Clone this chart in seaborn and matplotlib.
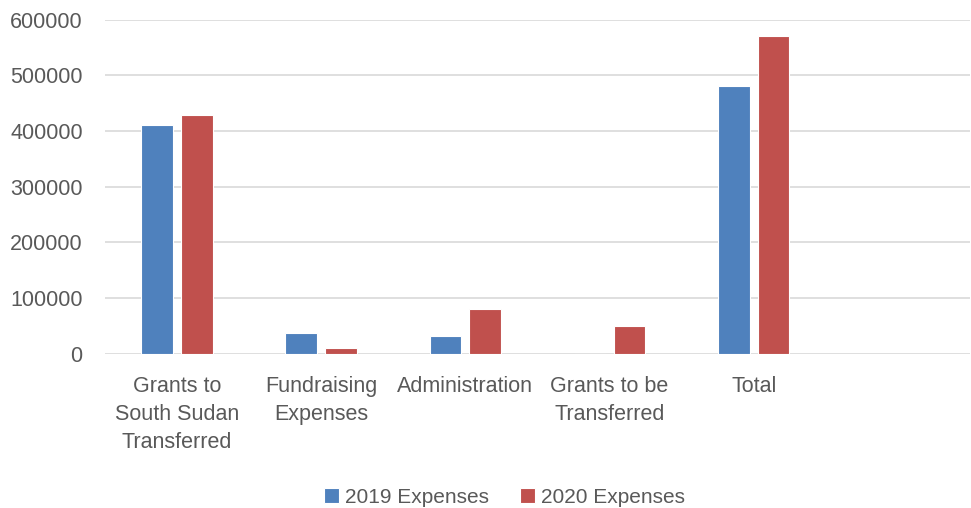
import pandas as pd
import numpy as np
import matplotlib.pyplot as plt
import seaborn as sns

# --- data ---
categories = ['Grants to\nSouth Sudan\nTransferred', 'Fundraising\nExpenses',
              'Administration', 'Grants to be\nTransferred', 'Total']
expenses_2019 = [411000, 36700, 32400, 0, 481500]
expenses_2020 = [428000, 9500, 80400, 49800, 571000]
series_names = ['2019 Expenses', '2020 Expenses']
y_ticks = [0, 100000, 200000, 300000, 400000, 500000, 600000]

df = pd.DataFrame({
    'Category': categories * 2,
    'Value': expenses_2019 + expenses_2020,
    'Series': [series_names[0]] * len(categories) + [series_names[1]] * len(categories),
})
# Excel left an empty sixth slot on the category axis
order = categories + [' ']

sns.set_style('white')
plt.rcParams['font.family'] = ['Liberation Sans', 'DejaVu Sans']

fig = plt.figure(figsize=(9.71, 5.08), dpi=100)
ax = fig.add_axes([0.108, 0.304, 0.891, 0.657])

sns.barplot(data=df, x='Category', y='Value', hue='Series', order=order,
            palette=['#4F81BD', '#C0504D'], saturation=1, width=0.55, gap=0.2,
            edgecolor='white', linewidth=0.8, ax=ax)

ax.set_xlim(-0.5, 5.5)
ax.set_ylim(0, 600000)
ax.set_yticks(y_ticks)
ax.set_yticklabels([str(t) for t in y_ticks])
ax.yaxis.grid(True, color='#D9D9D9', linewidth=1.2)
ax.set_axisbelow(True)
for s in ax.spines.values():
    s.set_visible(False)
ax.tick_params(axis='both', length=0, labelsize=15.5, colors='#595959')
ax.tick_params(axis='x', pad=16)
ax.tick_params(axis='y', pad=16)
for lbl in ax.get_xticklabels():
    lbl.set_linespacing(1.45)
ax.set_xlabel('')
ax.set_ylabel('')

ax.legend(loc='center', bbox_to_anchor=(0.462, -0.43), ncol=2, frameon=False,
          fontsize=15, labelcolor='#595959', handlelength=0.7, handleheight=0.7,
          handletextpad=0.3, columnspacing=1.5)

plt.savefig('out.png', dpi=100)
